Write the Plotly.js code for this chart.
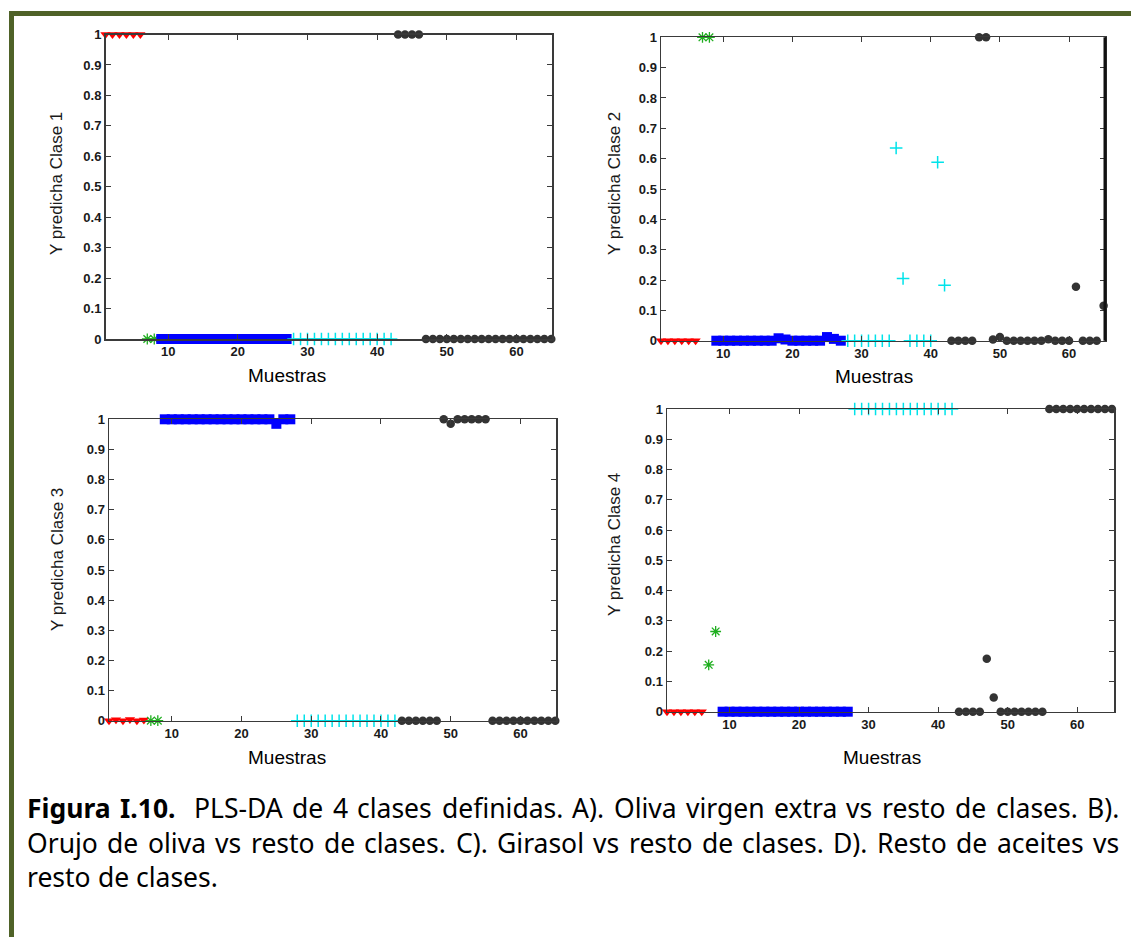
<!DOCTYPE html>
<html><head><meta charset="utf-8">
<script src="https://cdn.plot.ly/plotly-3.0.1.min.js"></script>
<style>html,body{margin:0;padding:0;background:#fff;}#chart{width:1131px;height:937px;}</style>
</head><body><div id="chart"></div>
<script>
// ---------------- DATA ----------------
// sample numbers of each group
const redX   = [1,2,3,4,5,6];
const greenX = [7,8];
const blueX  = [9,10,11,12,13,14,15,16,17,18,19,20,21,22,23,24,25,26,27];
const cyanX  = [28,29,30,31,32,33,34,35,36,37,38,39,40,41,42];
const blackX = [43,44,45,46,47,48,49,50,51,52,53,54,55,56,57,58,59,60,61,62,63,64,65];

// Clase 1
const c1Red   = [1,1,1,1,1,1];
const c1Green = [0,0];
const c1Blue  = [0,0,0,0,0,0,0,0,0,0,0,0,0,0,0,0,0,0,0];
const c1Cyan  = [0,0,0,0,0,0,0,0,0,0,0,0,0,0,0];
const c1Black = [1,1,1,1,0,0,0,0,0,0,0,0,0,0,0,0,0,0,0,0,0,0,0];
// Clase 2
const c2Red   = [0,0,0,0,0,0];
const c2Green = [1,1];
const c2Blue  = [0,0,0,0,0,0,0,0,0,0.008,0.004,0,0,0,0,0,0.012,0.006,0];
const c2Cyan  = [0,0,0,0,0,0,0,0.635,0.205,0,0,0,0,0.588,0.183];
const c2Black = [0,0,0,0,1,1,0.004,0.012,0,0,0,0,0,0,0.005,0,0,0,0.178,0,0,0,0.115];
// Clase 3
const c3Red   = [0,0.003,0,0.004,0,0.002];
const c3Green = [0,0];
const c3Blue  = [1,1,1,1,1,1,1,1,1,1,1,1,1,1,1,1,0.985,1,1];
const c3Cyan  = [0,0,0,0,0,0,0,0,0,0,0,0,0,0,0];
const c3Black = [0,0,0,0,0,0,1,0.985,1,1,1,1,1,0,0,0,0,0,0,0,0,0,0];
// Clase 4
const c4Red   = [0,0,0,0,0,0];
const c4Green = [0.155,0.265];
const c4Blue  = [0,0,0,0,0,0,0,0,0,0,0,0,0,0,0,0,0,0,0];
const c4Cyan  = [1,1,1,1,1,1,1,1,1,1,1,1,1,1,1];
const c4Black = [0,0,0,0,0.175,0.047,0,0,0,0,0,0,0,1,1,1,1,1,1,1,1,1,1];

const yTitles   = ["Y predicha Clase 1","Y predicha Clase 2","Y predicha Clase 3","Y predicha Clase 4"];
const xTitle    = "Muestras";
const xTickVals = [10,20,30,40,50,60];
const yTickVals = [0,0.1,0.2,0.3,0.4,0.5,0.6,0.7,0.8,0.9,1];
const yTickText = ["0","0.1","0.2","0.3","0.4","0.5","0.6","0.7","0.8","0.9","1"];

const capBold  = "Figura I.10.";
const capLine1 = "PLS-DA de 4 clases definidas. A). Oliva virgen extra vs resto de clases. B).";
const capLine2 = "Orujo de oliva vs resto de clases. C). Girasol vs resto de clases. D). Resto de aceites vs";
const capLine3 = "resto de clases.";

// ---------------- STYLE / LAYOUT ----------------
const W = 1131, H = 937;
const px = v => v / W;
const py = v => 1 - v / H;

const sets = [
  [c1Red,c1Green,c1Blue,c1Cyan,c1Black],
  [c2Red,c2Green,c2Blue,c2Cyan,c2Black],
  [c3Red,c3Green,c3Blue,c3Cyan,c3Black],
  [c4Red,c4Green,c4Blue,c4Cyan,c4Black]
];
const xs = [redX, greenX, blueX, cyanX, blackX];
const markerStyles = [
  {symbol:'triangle-down', size:9, color:'#ff0000', line:{width:0}},
  {symbol:'asterisk-open', size:9, color:'#1fae1f', line:{width:1.3, color:'#1fae1f'}},
  {symbol:'square', size:10, color:'#0000ff', line:{width:0}},
  {symbol:'cross-thin-open', size:9, color:'#00e3ea', line:{width:1.5, color:'#00e3ea'}},
  {symbol:'circle', size:8.5, color:'#333333', line:{width:0}}
];

// plot boxes in pixels
const boxes = [
  {l:105.5, r:552,  t:34.5,  b:339},
  {l:661,   r:1105, t:37.3,  b:340.7},
  {l:109,   r:556,  t:419.3, b:720.7},
  {l:667,   r:1114, t:409,   b:711.7}
];
const xRanges = [[1,65.1],[1,65.2],[1,65.1],[1,65.3]];
const yTitlePos = [[57,184],[615,184],[57,560],[614,545]];
const xTitlePos = [[287,375],[874,376],[287,757],[882,757]];

const traces = [];
const layout = {
  width: W, height: H,
  margin: {l:0, r:0, t:0, b:0},
  paper_bgcolor: '#ffffff', plot_bgcolor: '#ffffff',
  showlegend: false,
  annotations: [],
  shapes: [
    {type:'rect', xref:'paper', yref:'paper', x0:px(9), x1:px(1131), y0:py(16), y1:py(11), fillcolor:'#4f6228', line:{width:0}},
    {type:'rect', xref:'paper', yref:'paper', x0:px(9), x1:px(14), y0:py(937), y1:py(11), fillcolor:'#4f6228', line:{width:0}},
    // heavier right border of panel B as in the original
    {type:'line', xref:'paper', yref:'paper', x0:px(1105), x1:px(1105), y0:py(340.7), y1:py(37.3), line:{color:'#111111', width:3}}
  ]
};

const axisCommon = {
  showline:true, linecolor:'#3a3a3a', linewidth:1.5, mirror:'ticks',
  ticks:'inside', ticklen:5, tickwidth:1, tickcolor:'#3a3a3a',
  showgrid:false, zeroline:false, fixedrange:true,
  tickfont:{family:'"Liberation Sans", Arial, sans-serif', size:13, color:'#1a1a1a', weight:'bold'}
};

for (let k = 0; k < 4; k++) {
  const sfx = k === 0 ? '' : String(k+1);
  for (let g = 0; g < 5; g++) {
    traces.push({
      type:'scatter', mode:'markers',
      x: xs[g], y: sets[k][g],
      xaxis:'x'+sfx, yaxis:'y'+sfx,
      marker: markerStyles[g], cliponaxis:false, hoverinfo:'skip'
    });
  }
  const b = boxes[k];
  layout['xaxis'+sfx] = Object.assign({}, axisCommon, {
    domain:[px(b.l), px(b.r)], range:xRanges[k], anchor:'y'+sfx,
    tickmode:'array', tickvals:xTickVals
  });
  layout['yaxis'+sfx] = Object.assign({}, axisCommon, {
    domain:[py(b.b), py(b.t)], range:[0,1], anchor:'x'+sfx,
    tickmode:'array', tickvals:yTickVals, ticktext:yTickText
  });
  layout.annotations.push({
    xref:'paper', yref:'paper', x:px(yTitlePos[k][0]), y:py(yTitlePos[k][1]),
    text:yTitles[k], textangle:-90, showarrow:false, xanchor:'center', yanchor:'middle',
    font:{family:'"Liberation Sans", Arial, sans-serif', size:17, color:'#1a1a1a'}
  });
  layout.annotations.push({
    xref:'paper', yref:'paper', x:px(xTitlePos[k][0]), y:py(xTitlePos[k][1]),
    text:xTitle, showarrow:false, xanchor:'center', yanchor:'middle',
    font:{family:'"Liberation Sans", Arial, sans-serif', size:19, color:'#000000'}
  });
}

// ---------------- CAPTION (justified like the original) ----------------
const FAM = '"Noto Sans", "Open Sans", sans-serif';
const svgNS = 'http://www.w3.org/2000/svg';
const msvg = document.createElementNS(svgNS, 'svg');
msvg.setAttribute('width','10'); msvg.setAttribute('height','10');
msvg.style.position = 'absolute'; msvg.style.left = '-2000px'; msvg.style.top = '0';
document.body.appendChild(msvg);
const mt = document.createElementNS(svgNS, 'text');
msvg.appendChild(mt);
function tw(t, bold, size){
  mt.setAttribute('style', 'font-family:' + FAM + ';font-size:' + size + 'px;font-weight:' + (bold ? 'bold' : 'normal') + ';white-space:pre');
  mt.textContent = t;
  return mt.getComputedTextLength();
}
function spaceW(size){ return tw('a a', false, size) - tw('aa', false, size); }

const capLeft = 26, capRight = 1118;
const lineY = [808, 843, 877];
function tokens(){
  const out = [];
  const bw = capBold.split(' ');
  bw.forEach((w,i)=> out.push([w, true, i===bw.length-1 ? 2 : 1]));
  const nw = capLine1.split(' ');
  nw.forEach((w,i)=> out.push([w, false, i===nw.length-1 ? 0 : 1]));
  return out;
}
const lines = [
  {toks: tokens(), justify:true},
  {toks: capLine2.split(' ').map((w,i,a)=>[w,false,i===a.length-1?0:1]), justify:true},
  {toks: capLine3.split(' ').map((w,i,a)=>[w,false,i===a.length-1?0:1]), justify:false}
];
function natural(toks, size){
  let s = 0, n = 0;
  toks.forEach(t => { s += tw(t[0], t[1], size); n += t[2]; });
  return {w: s, n: n};
}
let capSize = 26.5;
while (capSize > 14) {
  const a = natural(lines[0].toks, capSize), bb = natural(lines[1].toks, capSize);
  const minSp = 0.8 * spaceW(capSize);
  if (a.w + a.n*minSp <= (capRight-capLeft) && bb.w + bb.n*minSp <= (capRight-capLeft)) break;
  capSize -= 0.25;
}
lines.forEach((ln, li) => {
  const nat = natural(ln.toks, capSize);
  const sp = spaceW(capSize);
  const extra = ln.justify ? ((capRight-capLeft) - nat.w - nat.n*sp) / nat.n : 0;
  let x = capLeft;
  ln.toks.forEach(t => {
    layout.annotations.push({
      xref:'paper', yref:'paper', x:px(x), y:py(lineY[li]),
      text:t[0], showarrow:false, xanchor:'left', yanchor:'middle', borderpad:0,
      font:{family:FAM, size:capSize, color:'#000000', weight: t[1] ? 'bold' : 'normal'}
    });
    x += tw(t[0], t[1], capSize) + t[2]*(sp + extra);
  });
});
msvg.remove();

Plotly.newPlot('chart', traces, layout, {staticPlot:true, displayModeBar:false});
</script>
</body></html>
